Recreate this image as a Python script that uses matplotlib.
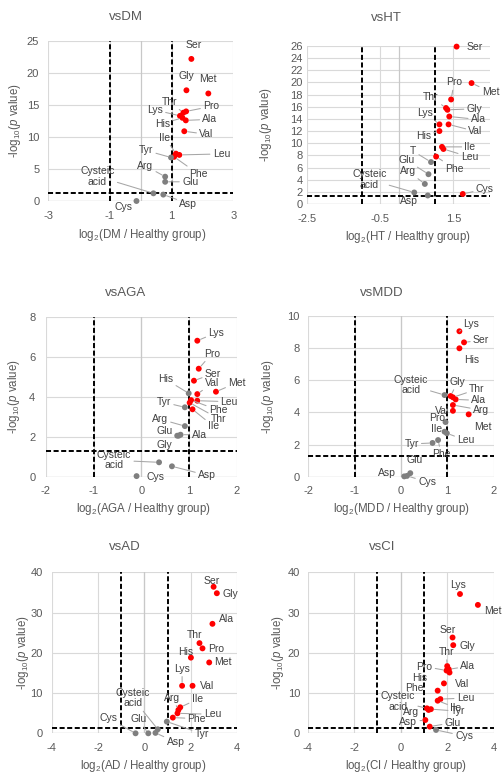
import matplotlib
matplotlib.use('Agg')
import matplotlib.pyplot as plt
import numpy as np

plt.rcParams['font.family'] = ['Liberation Sans', 'DejaVu Sans']
plt.rcParams['axes.unicode_minus'] = False
plt.rcParams['mathtext.fontset'] = 'custom'
plt.rcParams['mathtext.rm'] = 'Liberation Sans'
plt.rcParams['mathtext.it'] = 'Liberation Sans:italic'

# ---------------- data ----------------
dm_names = ['Ser', 'Gly', 'Met', 'Thr', 'Pro', 'Lys', 'His', 'Ala', 'Val', 'Ile', 'Leu', 'Phe', 'Tyr',
            'Arg', 'Glu', 'Cysteic\nacid', 'Asp', 'Cys']
dm_x = [1.64, 1.48, 2.19, 1.38, 1.47, 1.27, 1.35, 1.46, 1.41, 1.14, 1.25, 1.08, 0.98,
        0.79, 0.79, 0.41, 0.73, -0.14]
dm_y = [22.2, 17.3, 16.8, 13.8, 14.0, 13.3, 13.0, 12.6, 10.9, 7.4, 7.2, 6.9, 6.8,
        3.8, 3.0, 1.2, 1.0, 0.0]
dm_xticks = [-3, -1, 1, 3]
dm_yticks = [0, 5, 10, 15, 20, 25]

ht_names = ['Ser', 'Met', 'Pro', 'Thr', 'Gly', 'Ala', 'Lys', 'Val', 'His', 'Ile', 'Leu', 'T', 'Phe',
            'Glu', 'Arg', 'Cysteic\nacid', 'Asp', 'Cys']
ht_x = [1.59, 2.00, 1.44, 1.30, 1.34, 1.39, 1.12, 1.37, 1.12, 1.19, 1.23, 0.89, 1.03,
        0.82, 0.72, 0.43, 0.80, 1.76]
ht_y = [25.9, 19.9, 17.2, 15.8, 15.5, 14.4, 13.1, 13.1, 12.0, 9.4, 9.05, 6.9, 7.8,
        4.9, 3.3, 1.9, 1.4, 1.65]
ht_xticks = [-2.5, -0.5, 1.5]
ht_yticks = [0, 2, 4, 6, 8, 10, 12, 14, 16, 18, 20, 22, 24, 26]

aga_names = ['Lys', 'Pro', 'Ser', 'Val', 'Met', 'His', 'Leu', 'Phe', 'Thr', 'Ile', 'Tyr', 'Arg',
             'Glu', 'Gly', 'Ala', 'Cysteic\nacid', 'Asp', 'Cys']
aga_x = [1.17, 1.20, 1.10, 1.17, 1.56, 0.99, 1.17, 1.04, 1.01, 1.07, 0.91, 0.91,
         0.75, 0.78, 0.82, 0.37, 0.64, -0.10]
aga_y = [6.8, 5.4, 4.8, 4.13, 4.25, 4.17, 3.8, 3.83, 3.7, 3.37, 3.47, 2.53,
         2.05, 2.05, 2.1, 0.72, 0.52, 0.03]
aga_xticks = [-2, -1, 0, 1, 2]
aga_yticks = [0, 2, 4, 6, 8]

mdd_names = ['Lys', 'Ser', 'His', 'Cysteic\nacid', 'Gly', 'Thr', 'Ala', 'Arg', 'Val', 'Met', 'Pro',
             'Ile', 'Leu', 'Phe', 'Tyr', 'Glu', 'Asp', 'Cys']
mdd_x = [1.26, 1.36, 1.26, 0.94, 1.07, 1.12, 1.18, 1.12, 1.12, 1.46, 0.96,
         0.94, 0.99, 0.80, 0.68, 0.20, 0.07, 0.13]
mdd_y = [9.05, 8.36, 7.99, 5.08, 5.02, 4.94, 4.81, 4.46, 4.10, 3.88, 3.40,
         2.80, 2.70, 2.28, 2.10, 0.22, 0.02, 0.05]
mdd_xticks = [-2, -1, 0, 1, 2]
mdd_yticks = [0, 2, 4, 6, 8, 10]

ad_names = ['Ser', 'Gly', 'Ala', 'Thr', 'Pro', 'His', 'Met', 'Lys', 'Val', 'Ile', 'Arg', 'Leu',
            'Phe', 'Tyr', 'Cysteic\nacid', 'Asp', 'Glu', 'Cys']
ad_x = [2.99, 3.13, 2.94, 2.38, 2.51, 2.01, 2.80, 1.63, 2.08, 1.55, 1.47, 1.43,
        1.23, 0.97, 0.58, 0.48, 0.17, -0.38]
ad_y = [36.4, 34.8, 27.2, 22.4, 21.1, 18.8, 17.6, 11.8, 11.8, 6.46, 5.8, 4.97,
        3.9, 2.9, 1.0, 0.1, 0.0, 0.0]
ad_xticks = [-4, -2, 0, 2, 4]
ad_yticks = [0, 10, 20, 30, 40]

ci_names = ['Lys', 'Met', 'Ser', 'Gly', 'Thr', 'Ala', 'Pro', 'His', 'Val', 'Phe', 'Leu', 'Ile',
            'Tyr', 'Arg', 'Cysteic\nacid', 'Asp', 'Glu', 'Cys']
ci_x = [2.55, 3.32, 2.23, 2.26, 2.00, 2.07, 1.97, 2.10, 1.86, 1.59, 1.71, 1.59,
        1.30, 1.20, 1.13, 1.06, 1.25, 1.52]
ci_y = [34.6, 31.9, 23.8, 21.9, 16.7, 15.9, 15.6, 15.1, 12.4, 10.6, 8.5, 8.1,
        6.0, 5.8, 6.2, 3.3, 1.66, 0.83]
ci_xticks = [-4, -2, 0, 2, 4]
ci_yticks = [0, 10, 20, 30, 40]

p_threshold = -np.log10(0.05)
fc_threshold = 1.0

# ---------------- label placement (pixel offsets, leader line) ----------------
dm_lab = [(2, 14, 0), (0, 14, 0), (0, 14, 0), (-14, 11, 1), (25, 5, 1), (-25, 6, 1), (-20, -6, 1),
          (24, 1, 1), (22, -3, 1), (-11, 16, 1), (42, 1, 1), (24, -17, 1), (-25, 7, 1),
          (-20, 11, 1), (25, 0, 1), (-56, 17, 1), (25, -9, 1), (-13, -6, 0)]
ht_lab = [(18, 0, 0), (19, -9, 1), (3, 17, 1), (-15, 11, 1), (27, 1, 1), (29, -3, 1), (-14, 11, 1),
          (27, -7, 1), (-16, -5, 1), (28, 0, 1), (26, -8, 1), (-18, 11, 1), (18, -12, 1),
          (-22, 14, 1), (-17, 13, 1), (-45, 13, 1), (-19, -6, 0), (22, 5, 1)]
aga_lab = [(19, 8, 1), (13, 15, 1), (19, 7, 1), (15, 11, 1), (21, 9, 1), (-23, 14, 1), (32, -1, 1),
           (27, -10, 1), (29, -16, 1), (21, -17, 1), (-21, 5, 1), (-25, 7, 1),
           (-13, 5, 0), (-14, -9, 0), (19, 0, 1), (-45, 2, 1), (35, -9, 1), (19, -1, 0)]
mdd_lab = [(12, 7, 1), (17, 2, 1), (12, -12, 0), (-34, 10, 1), (7, 14, 1), (24, 8, 1), (23, -1, 1),
           (28, -5, 1), (-11, 0, 0), (14, -13, 0), (-8, 4, 0), (-8, 3, 0), (19, -7, 1),
           (3, -14, 1), (-21, -1, 1), (4, 13, 0), (-17, 3, 0), (20, -6, 1)]
ad_lab = [(-2, 6, 0), (14, -1, 0), (14, 5, 0), (-5, 8, 0), (14, -1, 0), (-5, 6, 0), (14, 0, 0),
          (0, 17, 1), (15, 0, 0), (17, 8, 1), (-6, 12, 1), (35, -1, 1), (24, -1, 1), (35, -12, 1),
          (-25, 31, 1), (20, -9, 1), (-10, 14, 1), (-27, 15, 1)]
ci_lab = [(-2, 9, 0), (15, -6, 0), (-5, 8, 0), (14, -1, 0), (-1, 14, 1), (19, 3, 1), (-22, 4, 1),
          (-30, -5, 0), (18, -1, 0), (-23, 3, 0), (25, 1, 1), (18, -7, 1), (27, -2, 1),
          (-18, -2, 0), (-29, 7, 1), (-17, -2, 1), (23, 4, 1), (28, -6, 1)]

W, H = 503, 774
fig = plt.figure(figsize=(W / 100, H / 100), dpi=100)
fig.patch.set_facecolor('white')

TXT = '#595959'
LAB = '#404040'
GRID = '#d9d9d9'


def px_rect(l, r, t, b):
    return [l / W, 1 - b / H, (r - l) / W, (b - t) / H]


panels = [
    dict(name='DM', title='vsDM', x=dm_x, y=dm_y, n=dm_names, lab=dm_lab, xt=dm_xticks, yt=dm_yticks,
         xlim=(-3, 3), rect=px_rect(48.3, 233.3, 41, 201), tpos=(0.42, 1.15), xl=(0.505, -0.21),
         yl=(-0.18, 0.5), ypad=6.5),
    dict(name='HT', title='vsHT', x=ht_x, y=ht_y, n=ht_names, lab=ht_lab, xt=ht_xticks, yt=ht_yticks,
         xlim=(-2.5, 2.5), rect=px_rect(307.3, 489.8, 46, 204), tpos=(0.435, 1.175), xl=(0.55, -0.212),
         yl=(-0.226, 0.5), ypad=3.5),
    dict(name='AGA', title='vsAGA', x=aga_x, y=aga_y, n=aga_names, lab=aga_lab, xt=aga_xticks,
         yt=aga_yticks, xlim=(-2, 2), rect=px_rect(45.7, 237, 316.7, 476.7), tpos=(0.415, 1.146),
         xl=(0.51, -0.205), yl=(-0.165, 0.5), ypad=7.5),
    dict(name='MDD', title='vsMDD', x=mdd_x, y=mdd_y, n=mdd_names, lab=mdd_lab, xt=mdd_xticks,
         yt=mdd_yticks, xlim=(-2, 2), rect=px_rect(308.3, 493.7, 316, 476.7), tpos=(0.396, 1.141),
         xl=(0.5, -0.2), yl=(-0.219, 0.5), ypad=6),
    dict(name='AD', title='vsAD', x=ad_x, y=ad_y, n=ad_names, lab=ad_lab, xt=ad_xticks, yt=ad_yticks,
         xlim=(-4, 4), rect=px_rect(51.7, 237, 572.3, 733.3), tpos=(0.396, 1.159), xl=(0.494, -0.2),
         yl=(-0.156, 0.5), ypad=6.5),
    dict(name='CI', title='vsCI', x=ci_x, y=ci_y, n=ci_names, lab=ci_lab, xt=ci_xticks, yt=ci_yticks,
         xlim=(-4, 4), rect=px_rect(307.7, 493.7, 572.3, 733.3), tpos=(0.398, 1.159), xl=(0.528, -0.2),
         yl=(-0.158, 0.5), ypad=5.5),
]

for p in panels:
    ax = fig.add_axes(p['rect'])
    ax.set_xlim(*p['xlim'])
    ax.set_ylim(p['yt'][0], p['yt'][-1])
    ax.set_xticks(p['xt'])
    ax.set_yticks(p['yt'])
    for s in ax.spines.values():
        s.set_visible(False)
    ax.tick_params(length=0, labelsize=8, labelcolor=TXT)
    ax.tick_params(axis='y', pad=p['ypad'])
    ax.tick_params(axis='x', pad=7)
    ax.grid(True, color=GRID, lw=0.8, zorder=0)
    ax.set_axisbelow(True)
    ax.axvline(0, color='#c8c8c8', lw=0.9, zorder=1)
    ax.axhline(0, color='#c8c8c8', lw=0.9, zorder=1)
    # threshold lines
    for xv in (-fc_threshold, fc_threshold):
        ax.axvline(xv, color='black', lw=1.4, ls=(0, (2.6, 1.3)), zorder=2)
    ax.axhline(p_threshold, color='black', lw=1.4, ls=(0, (2.6, 1.3)), zorder=2)

    xs = np.array(p['x'])
    ys = np.array(p['y'])
    sig = (xs > fc_threshold) & (ys > p_threshold)
    cols = np.where(sig, '#ff0000', '#7f7f7f')
    ax.scatter(xs, ys, s=18, c=cols, edgecolors='none', zorder=3, clip_on=False)

    for name, xv, yv, (dx, dy, lead) in zip(p['n'], p['x'], p['y'], p['lab']):
        kw = {}
        if lead:
            kw['arrowprops'] = dict(arrowstyle='-', color='#a6a6a6', lw=0.75, shrinkA=0, shrinkB=2.5)
        ax.annotate(name, xy=(xv, yv), xytext=(dx, dy), textcoords='offset pixels',
                    ha='center', va='center', fontsize=7.5, color=LAB, multialignment='center',
                    linespacing=1.05, annotation_clip=False, zorder=4, **kw)

    ax.text(p['tpos'][0], p['tpos'][1], p['title'], transform=ax.transAxes, ha='center', va='center',
            fontsize=9.5, color=TXT)
    ax.set_xlabel('log$_2$(%s / Healthy group)' % p['name'], fontsize=8.3, color=TXT, va='center')
    ax.set_ylabel('-log$_{10}$($p$ value)', fontsize=8.3, color=TXT, va='center')
    ax.xaxis.set_label_coords(*p['xl'])
    ax.yaxis.set_label_coords(*p['yl'])

fig.savefig('out.png', dpi=100, facecolor='white')
